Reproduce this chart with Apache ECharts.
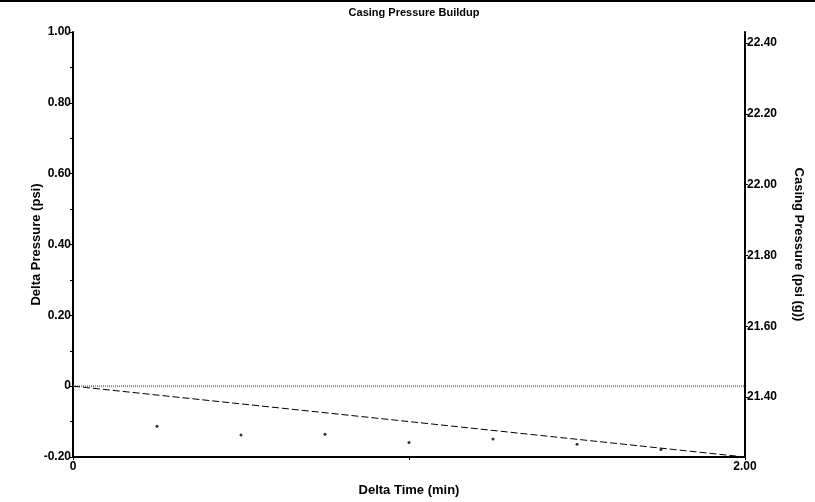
<!DOCTYPE html>
<html>
<head>
<meta charset="utf-8">
<script src="https://cdn.jsdelivr.net/npm/echarts@6/dist/echarts.min.js"></script>
<style>html,body{margin:0;padding:0;background:#fff}#c{width:815px;height:502px}</style>
</head>
<body>
<div id="c"></div>
<script>
// Data
const timeMin = [0.25, 0.50, 0.75, 1.00, 1.25, 1.50, 1.75];
const deltaPsi = [-0.113, -0.138, -0.136, -0.159, -0.149, -0.164, -0.179];
const trendX = [0, 2.0];
const trendY = [0, -0.2];
const zeroX = [0, 2.0];
const zeroY = [0, 0];
const rightTicks = [21.4, 21.6, 21.8, 22.0, 22.2, 22.4];
const rightMin = 21.231, rightMax = 22.431;

const font = {fontFamily: 'Liberation Sans, Arial, sans-serif', fontWeight: 'bold', fontSize: 12, color: '#000'};
const nameFont = Object.assign({}, font, {fontSize: 13});
const chart = echarts.init(document.getElementById('c'), null, {renderer: 'canvas'});
chart.setOption({
  animation: false,
  backgroundColor: '#fff',
  title: {text: 'Casing Pressure Buildup', left: 409, top: 2, textAlign: 'center',
    textStyle: Object.assign({}, font, {fontSize: 11})},
  grid: {left: 73, right: 70, top: 32, bottom: 44, containLabel: false},
  xAxis: {type: 'value', min: 0, max: 2, interval: 1,
    name: 'Delta Time (min)', nameLocation: 'middle', nameGap: 27,
    nameTextStyle: nameFont,
    axisLine: {onZero: false, lineStyle: {color: '#000', width: 2}},
    axisTick: {length: 3, lineStyle: {color: '#000'}},
    axisLabel: Object.assign({}, font, {margin: 4, showMinLabel: true, showMaxLabel: true,
      formatter: v => v === 0 ? '0' : (v === 2 ? '2.00' : '')}),
    splitLine: {show: false}},
  yAxis: [
    {type: 'value', min: -0.2, max: 1.0, interval: 0.2, position: 'left',
      name: 'Delta Pressure (psi)', nameLocation: 'middle', nameGap: 30, nameRotate: 90,
      nameMoveOverlap: false,
      nameTextStyle: nameFont,
      axisLine: {show: true, onZero: false, lineStyle: {color: '#000', width: 2}},
      axisTick: {show: true, length: 3, lineStyle: {color: '#000'}},
      minorTick: {show: true, splitNumber: 2, length: 3, lineStyle: {color: '#000'}},
      axisLabel: Object.assign({}, font, {margin: 2,
        formatter: v => Math.abs(v) < 1e-9 ? '0' : v.toFixed(2)}),
      splitLine: {show: false}},
    {type: 'value', min: rightMin, max: rightMax, position: 'right',
      name: 'Casing Pressure (psi (g))', nameLocation: 'middle', nameGap: 47, nameRotate: -90,
      nameTextStyle: nameFont,
      axisLine: {show: true, onZero: false, lineStyle: {color: '#000', width: 2}},
      axisTick: {show: true, length: 3, customValues: rightTicks, lineStyle: {color: '#000'}},
      axisLabel: Object.assign({}, font, {margin: 2, customValues: rightTicks,
        formatter: v => v.toFixed(2)}),
      splitLine: {show: false}}
  ],
  series: [
    {type: 'line', data: zeroX.map((x, i) => [x, zeroY[i]]), symbol: 'none',
      lineStyle: {color: '#888', width: 2, type: [1, 1]}, silent: true, z: 1},
    {type: 'line', data: trendX.map((x, i) => [x, trendY[i]]), symbol: 'none',
      lineStyle: {color: '#000', width: 1, type: [7, 3]}, silent: true, z: 2},
    {type: 'scatter', data: timeMin.map((x, i) => [x, deltaPsi[i]]), symbol: 'circle',
      symbolSize: 3, itemStyle: {color: '#000'}, z: 3}
  ],
  graphic: [{type: 'rect', shape: {x: 0, y: 0, width: 815, height: 2}, style: {fill: '#000'}}]
});
</script>
</body>
</html>
